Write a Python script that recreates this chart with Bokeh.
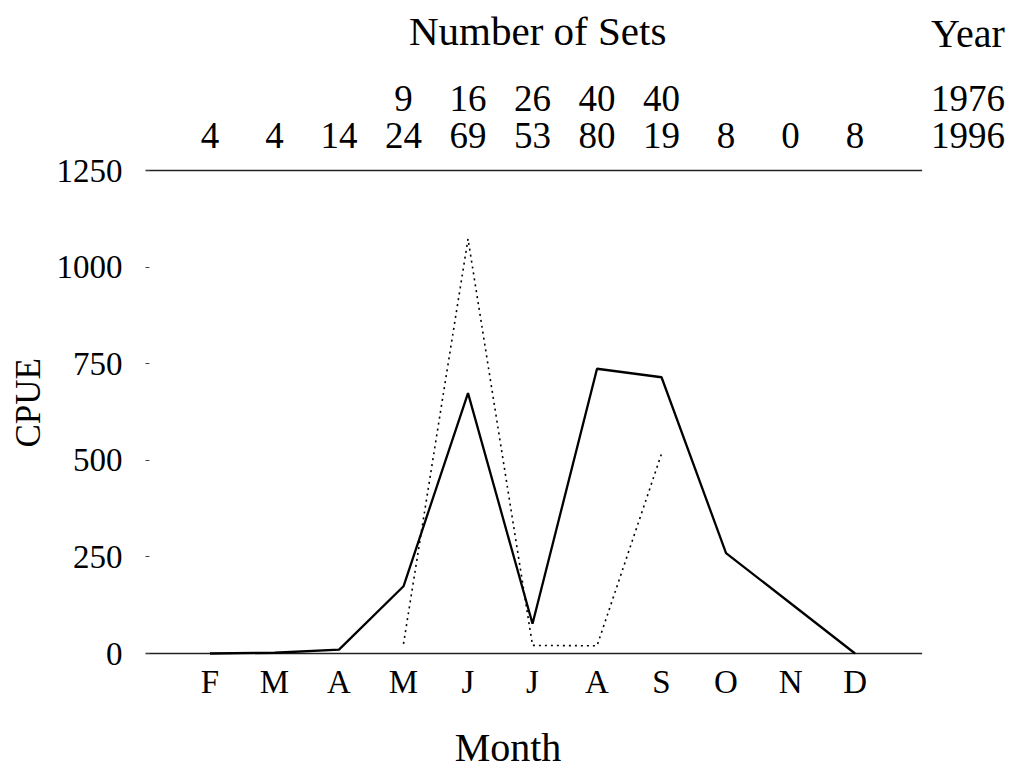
from bokeh.plotting import figure
from bokeh.models import ColumnDataSource, FixedTicker, LinearAxis, Range1d, Title
from bokeh.core.properties import value
from bokeh.embed import file_html
from bokeh.resources import INLINE

# ---------------- data ----------------
month_labels = ["F", "M", "A", "M", "J", "J", "A", "S", "O", "N", "D"]
months = [2, 3, 4, 5, 6, 7, 8, 9, 10, 11, 12]

cpue_1996 = [0, 2, 10, 174, 674, 77, 737, 715, 260, 130, 0]
months_1976 = [5, 6, 7, 8, 9]
cpue_1976 = [25, 1073, 21, 20, 517]

sets_1996 = [4, 4, 14, 24, 69, 53, 80, 19, 8, 0, 8]
sets_1976 = [9, 16, 26, 40, 40]
years = ["1976", "1996"]
yticks = [0, 250, 500, 750, 1000, 1250]

FONT = "Liberation Serif"

# layout constants (axis box in data units, text rows)
X_START, X_AXIS_END, X_END = 1, 13.04, 14.41
Y_START, Y_AXIS_TOP, Y_END = -315.7, 1250, 1690
ROW_1996, ROW_1976, ROW_TITLE, ROW_YEAR = 1340, 1436, 1612, 1605
ROW_MONTH, ROW_XTITLE = -74.5, -243
YEAR_X, TITLE_X, XTITLE_X = 13.75, 7.08, 6.62

# ---------------- figure ----------------
p = figure(width=1010, height=775, output_backend="svg", toolbar_location=None,
           x_range=Range1d(X_START, X_END), y_range=Range1d(Y_START, Y_END),
           min_border_left=145, min_border_right=0,
           min_border_top=0, min_border_bottom=0,
           x_axis_location=None, y_axis_location=None)
p.outline_line_color = None
p.grid.visible = False
p.background_fill_color = "white"
p.border_fill_color = "white"

# y axis (left)
yaxis = LinearAxis(ticker=FixedTicker(ticks=yticks))
yaxis.axis_line_color = None
yaxis.major_tick_in = 4
yaxis.major_tick_out = 0
yaxis.major_tick_line_color = "#444444"
yaxis.minor_tick_line_color = None
yaxis.major_label_text_font = FONT
yaxis.major_label_text_font_size = "33px"
yaxis.major_label_text_color = "black"
yaxis.major_label_standoff = 23
p.add_layout(yaxis, "left")
p.add_layout(Title(text="CPUE", align="left", offset=328, standoff=12,
                   text_font=FONT, text_font_size="35px",
                   text_font_style="normal", text_color="black"), "left")

# horizontal axis lines at 0 and 1250
p.segment(x0=[X_START, X_START], y0=[0, Y_AXIS_TOP],
          x1=[X_AXIS_END, X_AXIS_END], y1=[0, Y_AXIS_TOP],
          line_color="#222222", line_width=1.5)

# ---------------- lines ----------------
p.line(months, cpue_1996, line_color="black", line_width=2.3)
p.line(months_1976, cpue_1976, line_color="black", line_width=1.6,
       line_dash="2 4")

# ---------------- texts ----------------
txt = dict(text_align="center", text_baseline="alphabetic",
           text_font=value(FONT), text_color="black")
# month tick labels
p.text(x=months, y=[ROW_MONTH] * len(months), text=month_labels,
       text_font_size=value("33px"), **txt)
p.text(x=[XTITLE_X], y=[ROW_XTITLE], text=["Month"],
       text_font_size=value("40px"), **txt)

# number of sets
src96 = ColumnDataSource(dict(x=months, y=[ROW_1996] * len(months),
                              t=[str(v) for v in sets_1996]))
src76 = ColumnDataSource(dict(x=months_1976, y=[ROW_1976] * len(months_1976),
                              t=[str(v) for v in sets_1976]))
p.text(x="x", y="y", text="t", source=src96, text_font_size=value("37px"), **txt)
p.text(x="x", y="y", text="t", source=src76, text_font_size=value("37px"), **txt)
p.text(x=[YEAR_X, YEAR_X], y=[ROW_1976, ROW_1996], text=years,
       text_font_size=value("37px"), **txt)
p.text(x=[YEAR_X], y=[ROW_YEAR], text=["Year"],
       text_font_size=value("40px"), **txt)
p.text(x=[TITLE_X], y=[ROW_TITLE], text=["Number of Sets"],
       text_font_size=value("41px"), **txt)

open("out.html", "w").write(file_html(p, INLINE))
